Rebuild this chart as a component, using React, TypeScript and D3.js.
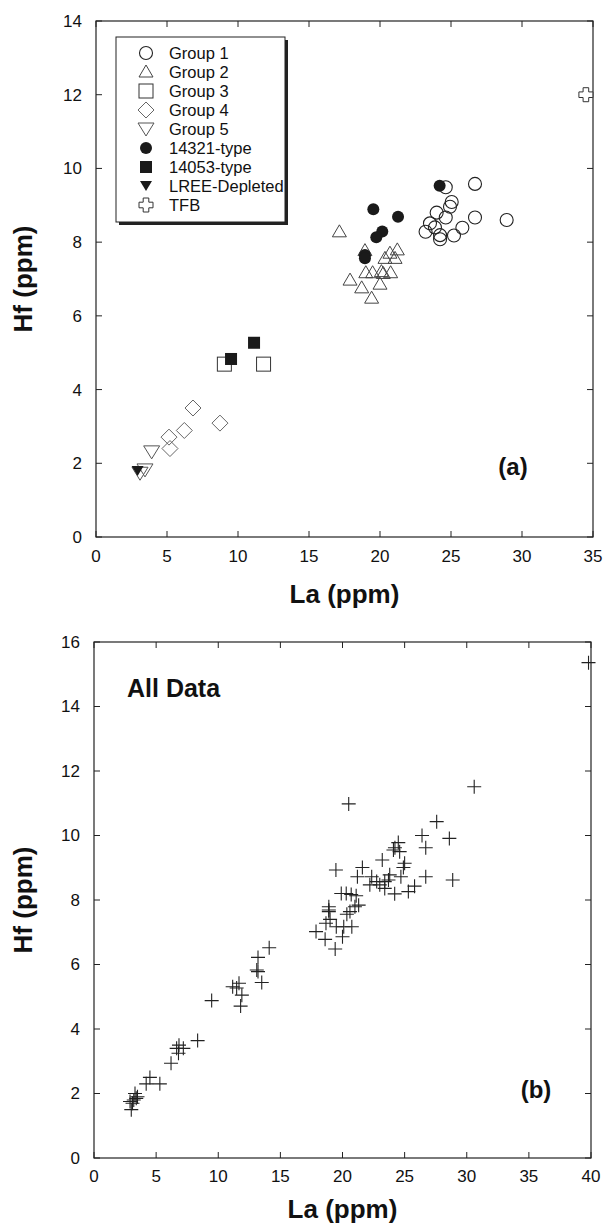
import React from "react";
import * as d3 from "d3";

const FONT = "'Liberation Sans', Arial, Helvetica, sans-serif";

// ---- panel (a) data: [La, Hf] ----
const group1 = [
  [24.63, 9.49], [26.69, 9.58], [25.05, 9.09], [24.93, 8.96], [23.99, 8.8],
  [24.63, 8.67], [26.69, 8.67], [28.92, 8.6], [23.52, 8.51], [23.87, 8.4],
  [25.8, 8.39], [23.21, 8.28], [24.23, 8.19], [24.23, 8.08], [25.21, 8.18],
];
const group2 = [
  [17.14, 8.28], [18.94, 7.77], [20.7, 7.7], [21.22, 7.79], [20.35, 7.56],
  [21.06, 7.56], [19.0, 7.17], [19.48, 7.17], [20.1, 7.2], [20.23, 7.15],
  [20.75, 7.17], [17.89, 6.97], [18.71, 6.76], [20.0, 6.86], [19.41, 6.48],
];
const group3 = [[9.04, 4.69], [11.8, 4.69]];
const group4 = [[6.83, 3.5], [8.73, 3.09], [6.22, 2.89], [5.14, 2.71], [5.21, 2.4]];
const group5 = [[3.92, 2.31], [3.45, 1.82], [3.1, 1.73]];
const type14321 = [
  [24.2, 9.53], [19.53, 8.89], [21.27, 8.69], [20.16, 8.29], [19.74, 8.13],
  [18.94, 7.65], [18.94, 7.56],
];
const type14053 = [[11.13, 5.27], [9.51, 4.83]];
const lreeDepleted = [[2.93, 1.79]];
const tfb = [[34.5, 12.0]];

const legendItems = [
  { label: "Group 1", type: "circle" },
  { label: "Group 2", type: "triangle" },
  { label: "Group 3", type: "square" },
  { label: "Group 4", type: "diamond" },
  { label: "Group 5", type: "down" },
  { label: "14321-type", type: "fcircle" },
  { label: "14053-type", type: "fsquare" },
  { label: "LREE-Depleted", type: "fdown" },
  { label: "TFB", type: "cross" },
];

const seriesA = [
  { type: "circle", data: group1 },
  { type: "triangle", data: group2 },
  { type: "square", data: group3 },
  { type: "diamond", data: group4 },
  { type: "down", data: group5 },
  { type: "fcircle", data: type14321 },
  { type: "fsquare", data: type14053 },
  { type: "fdown", data: lreeDepleted },
  { type: "cross", data: tfb },
];

// ---- panel (b) data: all analyses ----
const allData = [
  [3.0, 1.5], [3.1, 1.7], [3.2, 1.8], [3.5, 1.9], [3.3, 2.0], [2.9, 1.75], [3.4, 1.85],
  [4.2, 2.3], [4.5, 2.5], [5.3, 2.3], [6.2, 2.94], [6.65, 3.4], [6.84, 3.5], [7.19, 3.4],
  [6.8, 3.25], [8.34, 3.64], [9.47, 4.88], [11.16, 5.31], [11.67, 5.42], [11.48, 5.27],
  [11.9, 5.05], [11.8, 4.71], [13.1, 5.83], [13.2, 5.78], [13.2, 6.22], [13.5, 5.44],
  [14.1, 6.52], [17.87, 7.02], [18.6, 6.78], [18.67, 7.28], [18.9, 7.69], [18.9, 7.79],
  [18.9, 7.64], [19.0, 7.4], [19.47, 8.93], [19.41, 6.48], [19.5, 7.17], [20.0, 6.86],
  [20.1, 7.17], [20.75, 7.17], [20.35, 7.56], [20.6, 7.64], [21.0, 7.79], [21.3, 7.84],
  [19.9, 8.2], [20.3, 8.2], [20.7, 8.17], [21.1, 8.13], [20.5, 10.98], [21.2, 8.72],
  [21.6, 9.01], [22.35, 8.72], [22.75, 8.57], [22.2, 8.47], [23.0, 8.47], [23.4, 8.57],
  [23.7, 8.62], [23.4, 8.36], [23.2, 9.24], [23.8, 8.78], [24.2, 8.19], [24.49, 9.78],
  [24.22, 9.62], [24.1, 9.55], [24.6, 9.5], [25.0, 9.14], [24.9, 9.01], [24.7, 8.72],
  [25.8, 8.43], [25.3, 8.26], [26.4, 10.0], [26.7, 9.62], [26.7, 8.72], [27.58, 10.43],
  [28.6, 9.91], [28.87, 8.62], [30.6, 11.51], [39.8, 15.36],
];

function Marker({ type, x, y }: { type: string; x: number; y: number }) {
  const open = { fill: "none", stroke: "#444", strokeWidth: 1 };
  switch (type) {
    case "circle":
      return <circle cx={x} cy={y} r={6.5} fill="none" stroke="#222" strokeWidth={1.1} />;
    case "triangle":
      return <path d={`M${x},${y - 7}L${x + 7},${y + 5}L${x - 7},${y + 5}Z`} {...open} />;
    case "square":
      return <rect x={x - 7} y={y - 7} width={14} height={14} {...open} stroke="#333" />;
    case "diamond":
      return <path d={`M${x},${y - 8}L${x + 8},${y}L${x},${y + 8}L${x - 8},${y}Z`} {...open} stroke="#666" />;
    case "down":
      return <path d={`M${x},${y + 7}L${x + 8},${y - 6}L${x - 8},${y - 6}Z`} {...open} stroke="#555" />;
    case "fcircle":
      return <circle cx={x} cy={y} r={6} fill="#1a1a1a" />;
    case "fsquare":
      return <rect x={x - 6} y={y - 6} width={12} height={12} fill="#1a1a1a" />;
    case "fdown":
      return <path d={`M${x},${y + 5}L${x + 6},${y - 5}L${x - 6},${y - 5}Z`} fill="#1a1a1a" />;
    case "cross": {
      const a = 2.8, l = 7;
      const pts = [
        [-a, -l], [a, -l], [a, -a], [l, -a], [l, a], [a, a],
        [a, l], [-a, l], [-a, a], [-l, a], [-l, -a], [-a, -a],
      ];
      return <path d={"M" + pts.map((p) => `${x + p[0]},${y + p[1]}`).join("L") + "Z"} fill="white" stroke="#333" strokeWidth={1} />;
    }
    case "plus":
      return <path d={`M${x - 7},${y}H${x + 7}M${x},${y - 7}V${y + 7}`} stroke="#222" strokeWidth={1.1} fill="none" />;
    default:
      return null;
  }
}

function Frame({ xs, ys, xTickY, xTitleY, yTitleX }: any) {
  const [x0, x1] = xs.range();
  const [y0, y1] = ys.range(); // y0 bottom, y1 top
  const tl = 6;
  const xt = xs.ticks(xs.domain()[1] / 5);
  const yt = ys.ticks(ys.domain()[1] / 2);
  return (
    <g>
      <rect x={x0} y={y1} width={x1 - x0} height={y0 - y1} fill="none" stroke="#222" strokeWidth={1.2} />
      {xt.map((t: number) => (
        <g key={"x" + t}>
          <line x1={xs(t)} x2={xs(t)} y1={y0} y2={y0 - tl} stroke="#222" />
          <line x1={xs(t)} x2={xs(t)} y1={y1} y2={y1 + tl} stroke="#222" />
          <text x={xs(t)} y={xTickY} textAnchor="middle" fontSize={17} fontFamily={FONT} fill="#111">{t}</text>
        </g>
      ))}
      {yt.map((t: number) => (
        <g key={"y" + t}>
          <line x1={x0} x2={x0 + tl} y1={ys(t)} y2={ys(t)} stroke="#222" />
          <line x1={x1} x2={x1 - tl} y1={ys(t)} y2={ys(t)} stroke="#222" />
          <text x={x0 - 14} y={ys(t)} dy="0.35em" textAnchor="end" fontSize={17} fontFamily={FONT} fill="#111">{t}</text>
        </g>
      ))}
      <text x={(x0 + x1) / 2} y={xTitleY} textAnchor="middle" fontSize={26} fontWeight="bold" fontFamily={FONT} fill="#111">La (ppm)</text>
      <text
        transform={`translate(${yTitleX},${(y0 + y1) / 2}) rotate(-90)`}
        textAnchor="middle"
        dy="0.35em"
        fontSize={26}
        fontWeight="bold"
        fontFamily={FONT}
        fill="#111"
      >
        Hf (ppm)
      </text>
    </g>
  );
}

export default function App() {
  const xa = d3.scaleLinear().domain([0, 35]).range([96, 593]);
  const ya = d3.scaleLinear().domain([0, 14]).range([537, 21]);
  const xb = d3.scaleLinear().domain([0, 40]).range([94, 591]);
  const yb = d3.scaleLinear().domain([0, 16]).range([1158, 642]);

  const lx = 116, ly = 37, lw = 169, lh = 185;

  return (
    <svg
      width={605}
      height={1228}
      style={{ position: "absolute", left: 0, top: 0, background: "white" }}
    >
      <rect width={605} height={1228} fill="white" />

      {/* panel (a) */}
      <Frame xs={xa} ys={ya} xTickY={562} xTitleY={603} yTitleX={23} />
      {seriesA.map((s) =>
        s.data.map((d, i) => <Marker key={s.type + i} type={s.type} x={xa(d[0])} y={ya(d[1])} />)
      )}
      <text x={513} y={475} textAnchor="middle" fontSize={24} fontWeight="bold" fontFamily={FONT} fill="#111">(a)</text>

      {/* legend */}
      <rect x={lx + 3} y={ly + 3} width={lw} height={lh} fill="#222" />
      <rect x={lx} y={ly} width={lw} height={lh} fill="white" stroke="#222" strokeWidth={1} />
      {legendItems.map((it, i) => {
        const yy = 53 + i * 19;
        return (
          <g key={it.label}>
            <Marker type={it.type} x={146} y={yy} />
            <text x={169} y={yy} dy="0.36em" fontSize={16.5} fontFamily={FONT} fill="#111">{it.label}</text>
          </g>
        );
      })}

      {/* panel (b) */}
      <Frame xs={xb} ys={yb} xTickY={1182} xTitleY={1218} yTitleX={23} />
      {allData.map((d, i) => (
        <Marker key={"b" + i} type="plus" x={xb(d[0])} y={yb(d[1])} />
      ))}
      <text x={127} y={697} fontSize={25} fontWeight="bold" fontFamily={FONT} fill="#111">All Data</text>
      <text x={536} y={1098} textAnchor="middle" fontSize={24} fontWeight="bold" fontFamily={FONT} fill="#111">(b)</text>
    </svg>
  );
}
